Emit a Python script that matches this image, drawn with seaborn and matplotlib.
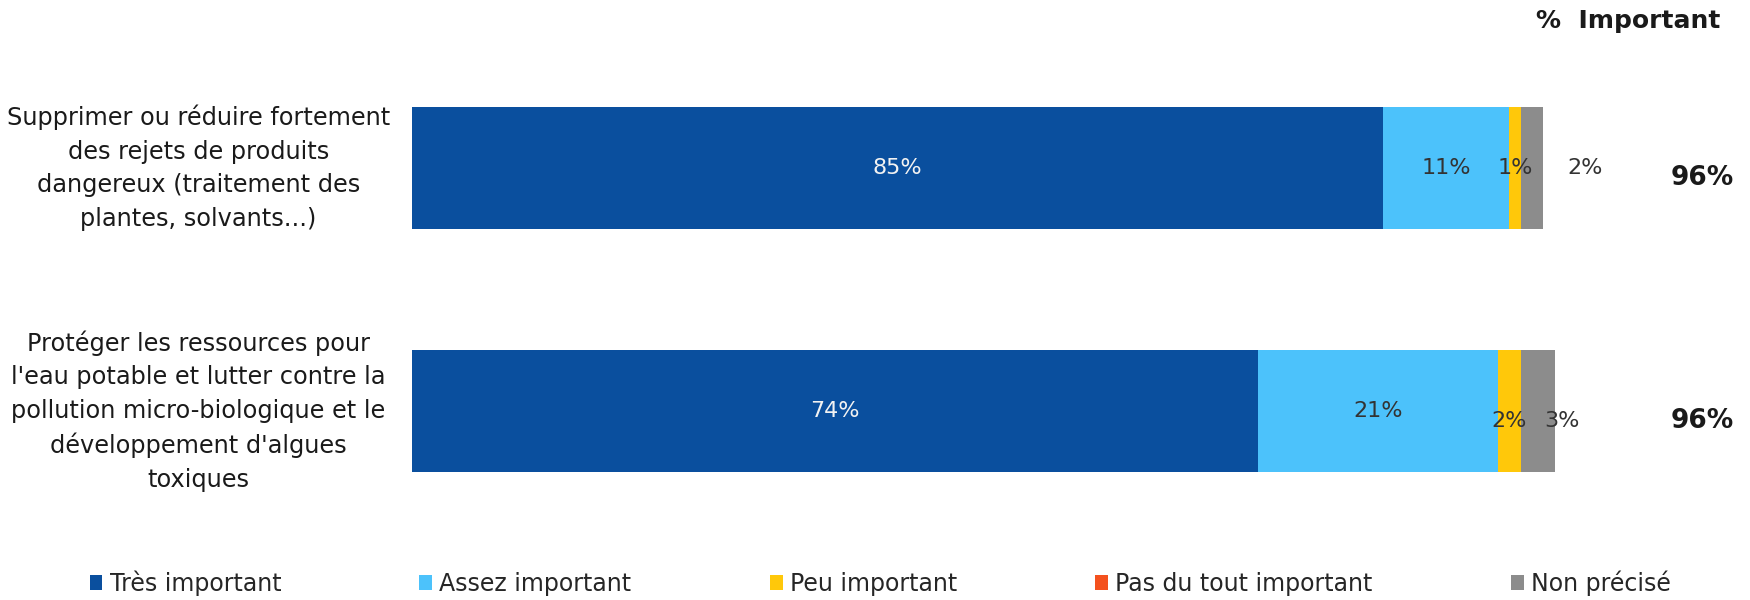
import numpy as np
import pandas as pd
import matplotlib
matplotlib.use('Agg')
import matplotlib.pyplot as plt
from matplotlib.patches import Patch
import seaborn as sns

# données
categories = [
    "Supprimer ou réduire fortement\ndes rejets de produits\ndangereux (traitement des\nplantes, solvants...)",
    "Protéger les ressources pour\nl'eau potable et lutter contre la\npollution micro-biologique et le\ndéveloppement d'algues\ntoxiques",
]
responses = ["Très important", "Assez important", "Peu important",
             "Pas du tout important", "Non précisé"]
tres_important = [85, 74]
assez_important = [11, 21]
peu_important = [1, 2]
pas_du_tout = [0, 0]
non_precise = [2, 3]
pct_important = [96, 96]

colors = ["#0A4F9E", "#4CC2FB", "#FFC80A", "#F4511E", "#8C8C8C"]
label_colors = ["#F2F2F2", "#333333", "#333333", "#333333", "#333333"]

sns.set_theme(style="white")
plt.rcParams['font.family'] = ['DejaVu Sans']

values = np.array([tres_important, assez_important, peu_important,
                   pas_du_tout, non_precise], dtype=float)
cum = values.cumsum(axis=0)

fig = plt.figure(figsize=(17.5, 6), dpi=100)
ax = fig.add_axes([0.2354, 0.0, 0.6531, 1.0])

# barres empilées : on dessine les cumuls du plus long au plus court
for i in range(len(responses) - 1, -1, -1):
    df = pd.DataFrame({"cat": categories, "val": cum[i]})
    sns.barplot(data=df, x="val", y="cat", color=colors[i], width=0.5,
                orient="h", ax=ax, saturation=1, linewidth=0)

ax.set_xlim(0, 100)
ax.set_ylim(1.778, -0.691)
ax.set_xlabel("")
ax.set_ylabel("")
ax.set_xticks([])
ax.set_yticks([])
for s in ax.spines.values():
    s.set_visible(False)

# décalage manuel de quelques étiquettes (comme dans l'original)
label_dx = {(0, 4): 4.6, (1, 4): 2.1}
label_dy = {1: 0.04}

for j in range(len(categories)):
    for i in range(len(responses)):
        v = values[i, j]
        if v <= 0:
            continue
        xc = cum[i, j] - v / 2 + label_dx.get((j, i), 0)
        yc = j + (label_dy.get(j, 0) if i >= 2 else 0)
        ax.text(xc, yc, f"{int(v)}%", ha="center", va="center",
                fontsize=16, color=label_colors[i])
    ax.text(-0.187, j, categories[j], transform=ax.get_yaxis_transform(),
            ha="center", va="center", multialignment="center",
            fontsize=17.3, linespacing=1.5, color="#1a1a1a")
    ax.text(1.157, j + 0.04, f"{pct_important[j]}%",
            transform=ax.get_yaxis_transform(), ha="right", va="center",
            fontsize=19, fontweight="bold", color="#1a1a1a")

fig.text(0.983, 0.965, "%  Important", ha="right", va="center",
         fontsize=18, fontweight="bold", color="#1a1a1a")

handles = [Patch(facecolor=c, edgecolor="none") for c in colors]
fig.legend(handles, responses, loc="center left", bbox_to_anchor=(0.039, 0.028),
           ncol=5, frameon=False, fontsize=17, handlelength=0.55,
           handleheight=0.55, handletextpad=0.3, columnspacing=5.85)

fig.savefig("out.png", dpi=100, facecolor="white")
